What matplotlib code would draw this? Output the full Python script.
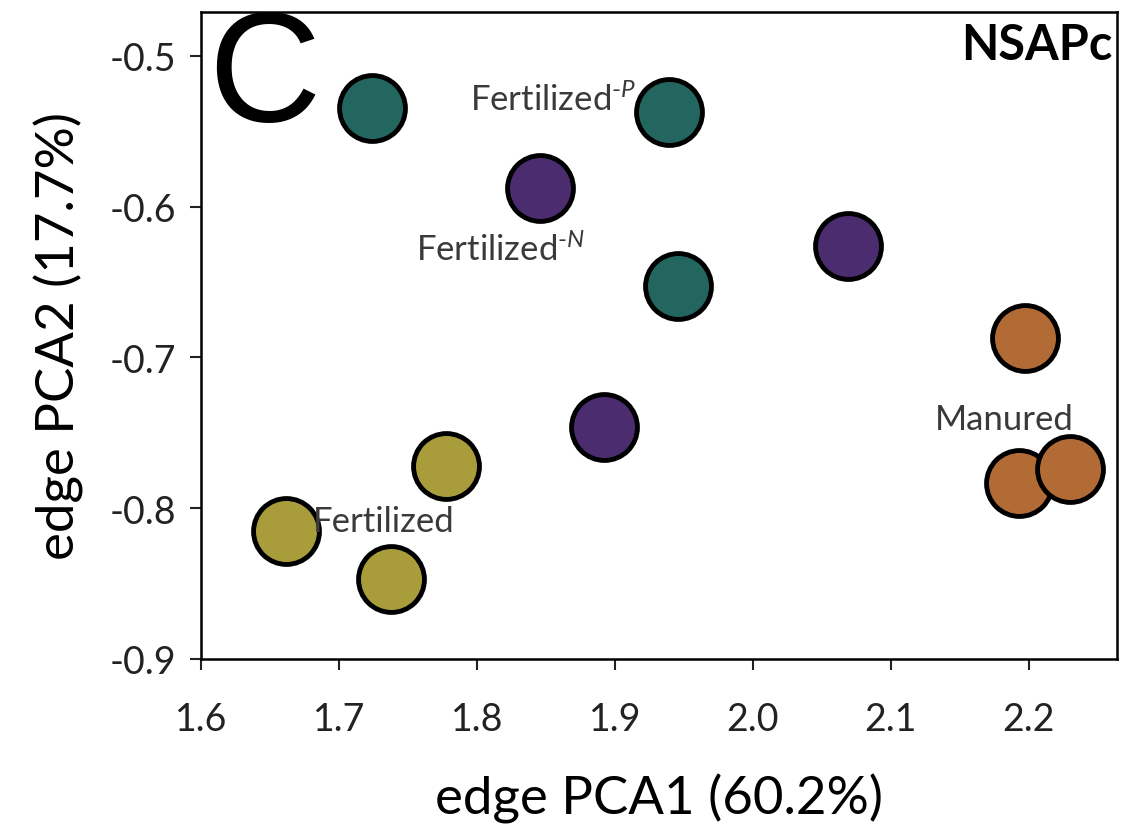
import matplotlib.pyplot as plt
import numpy as np

plt.rcParams['font.family'] = ['Lato', 'DejaVu Sans']
plt.rcParams['mathtext.fontset'] = 'custom'
plt.rcParams['mathtext.it'] = 'Lato:italic'
plt.rcParams['mathtext.rm'] = 'Lato'

# points
pc1_teal = [1.724, 1.939, 1.946]
pc2_teal = [-0.5345, -0.537, -0.6526]
pc1_purple = [1.846, 2.069, 1.892]
pc2_purple = [-0.588, -0.626, -0.746]
pc1_orange = [2.197, 2.193, 2.230]
pc2_orange = [-0.687, -0.783, -0.774]
pc1_olive = [1.7775, 1.6616, 1.738]
pc2_olive = [-0.772, -0.815, -0.847]

groups = ['Fertilized$^{\\text{-}P}$', 'Fertilized$^{\\text{-}N}$', 'Manured', 'Fertilized']
label_x = [1.795, 1.756, 2.132, 1.681]
label_y = [-0.5285, -0.628, -0.741, -0.8085]

xticks = [1.6, 1.7, 1.8, 1.9, 2.0, 2.1, 2.2]
yticks = [-0.9, -0.8, -0.7, -0.6, -0.5]

fig = plt.figure(figsize=(11.24, 8.37), dpi=100)
ax = fig.add_axes([0.1788, 0.2115, 0.815, 0.773])

sz = 2250
ax.scatter(pc1_teal, pc2_teal, s=sz, c='#236660', edgecolors='black', linewidths=3.5, zorder=3)
ax.scatter(pc1_purple, pc2_purple, s=sz, c='#4b2c6f', edgecolors='black', linewidths=3.5, zorder=3)
ax.scatter(pc1_orange, pc2_orange, s=sz, c='#b26b35', edgecolors='black', linewidths=3.5, zorder=3)
ax.scatter(pc1_olive, pc2_olive, s=sz, c='#a99c3b', edgecolors='black', linewidths=3.5, zorder=3)

for g, x, y in zip(groups, label_x, label_y):
    ax.text(x, y, g, fontsize=25, color='#3a3a3a', va='center', ha='left', zorder=4)

ax.set_xlim(1.6, 2.264)
ax.set_ylim(-0.9, -0.471)
ax.set_xticks(xticks)
ax.set_xticklabels(['%.1f' % v for v in xticks])
ax.set_yticks(yticks)
ax.set_yticklabels(['%.1f' % v for v in yticks])
ax.tick_params(labelsize=27, length=8, width=1.5, pad=10, colors='#222222')
ax.tick_params(axis='x', pad=22)
for sp in ax.spines.values():
    sp.set_linewidth(1.8)

ax.set_xlabel('edge PCA1 (60.2%)', fontsize=38, labelpad=26)
ax.set_ylabel('edge PCA2 (17.7%)', fontsize=38, labelpad=18)

ax.text(0.995, 0.985, 'NSAPc', transform=ax.transAxes, ha='right', va='top',
        fontsize=35, fontweight='bold')
fig.text(0.185, 0.99, 'C', ha='left', va='top', fontsize=112, family='Liberation Sans')

fig.savefig('out.png', dpi=100)
